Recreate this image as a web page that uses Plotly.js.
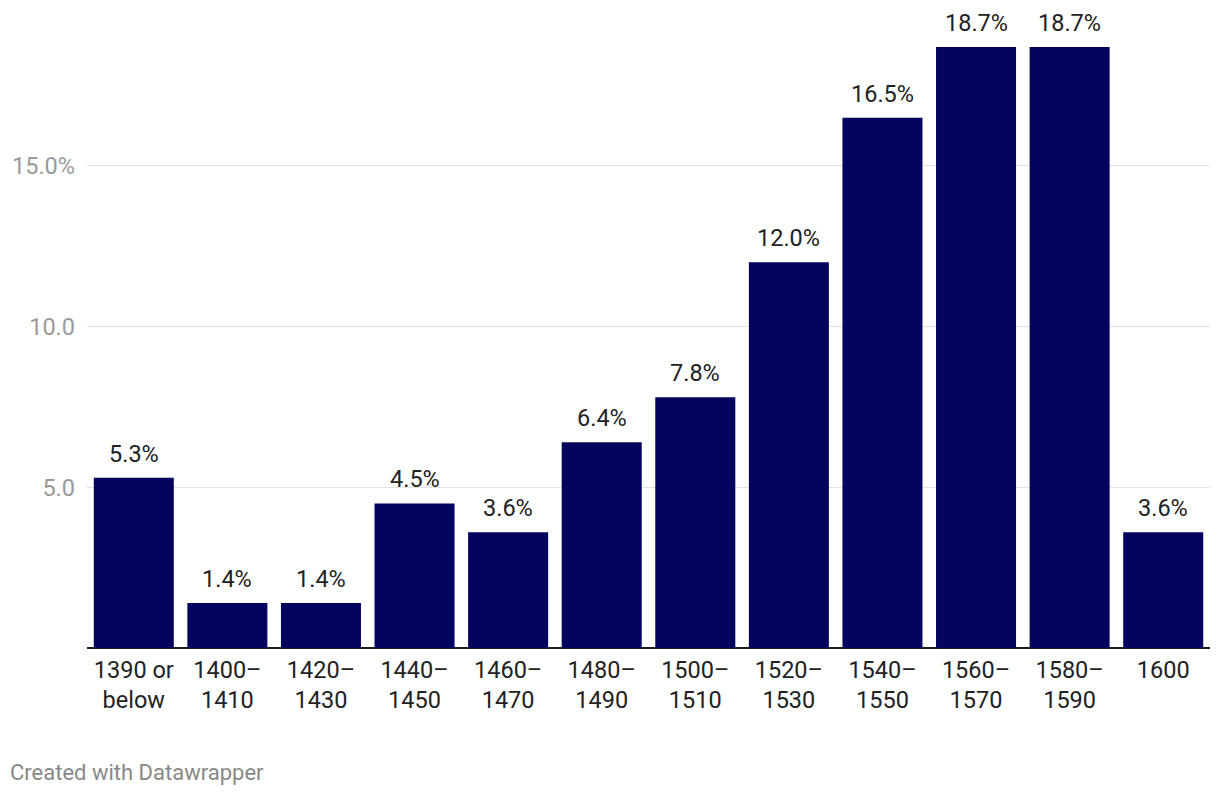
<!DOCTYPE html>
<html>
<head>
<meta charset="utf-8">
<script src="https://cdn.plot.ly/plotly-3.0.1.min.js"></script>
<style>
  html, body { margin: 0; padding: 0; background: #fff; }
  #chart { width: 1220px; height: 796px; }
</style>
</head>
<body>
<div id="chart"></div>
<script>
const categories = ["1390 or below", "1400-1410", "1420-1430", "1440-1450", "1460-1470", "1480-1490", "1500-1510", "1520-1530", "1540-1550", "1560-1570", "1580-1590", "1600"];
const tickLabels = ["1390 or<br>below", "1400–<br>1410", "1420–<br>1430", "1440–<br>1450", "1460–<br>1470", "1480–<br>1490", "1500–<br>1510", "1520–<br>1530", "1540–<br>1550", "1560–<br>1570", "1580–<br>1590", "1600"];
const values = [5.3, 1.4, 1.4, 4.5, 3.6, 6.4, 7.8, 12.0, 16.5, 18.7, 18.7, 3.6];
const valueLabels = values.map(v => v.toFixed(1) + "%");
const yTickVals = [5, 10, 15];
const yTickText = ["5.0", "10.0", "15.0%"];

const FONT = "Roboto, 'Noto Sans', sans-serif";

const trace = {
  type: "bar",
  x: categories,
  y: values,
  marker: { color: "#03045e" },
  hoverinfo: "skip"
};

// category axis: annotations positioned by category index
const annotations = categories.map((c, i) => ({
  x: i,
  y: values[i],
  xref: "x",
  yref: "y",
  text: valueLabels[i],
  showarrow: false,
  yanchor: "bottom",
  yshift: 8,
  font: { family: FONT, size: 23.5, color: "#222" }
}));

annotations.push({
  xref: "paper", yref: "paper",
  x: 0, y: 0,
  xanchor: "left", yanchor: "middle",
  xshift: -79, yshift: -124,
  text: "Created with Datawrapper",
  showarrow: false,
  font: { family: FONT, size: 22, color: "#888" }
});

const layout = {
  width: 1220,
  height: 796,
  margin: { l: 87, r: 10, t: 30, b: 148 },
  paper_bgcolor: "#fff",
  plot_bgcolor: "#fff",
  bargap: 0.145,
  showlegend: false,
  font: { family: FONT },
  xaxis: {
    type: "category",
    categoryorder: "array",
    categoryarray: categories,
    range: [-0.5, categories.length - 0.5],
    tickvals: categories,
    ticktext: tickLabels,
    tickfont: { family: FONT, size: 23.5, color: "#222" },
    tickangle: 0,
    ticklabelstandoff: 5,
    showgrid: false,
    ticks: "",
    showline: false,
    zeroline: false,
    fixedrange: true
  },
  yaxis: {
    range: [0, 19.23],
    tickvals: yTickVals,
    ticktext: yTickText,
    tickfont: { family: FONT, size: 23.5, color: "#9a9a9a" },
    showgrid: true,
    gridcolor: "#e2e2e2",
    gridwidth: 1,
    zeroline: true,
    zerolinecolor: "#1d1d1d",
    zerolinewidth: 2,
    ticks: "",
    ticklabelstandoff: 11,
    showline: false,
    fixedrange: true
  },
  annotations: annotations
};

Plotly.newPlot("chart", [trace], layout, { displayModeBar: false, staticPlot: true });
</script>
</body>
</html>
